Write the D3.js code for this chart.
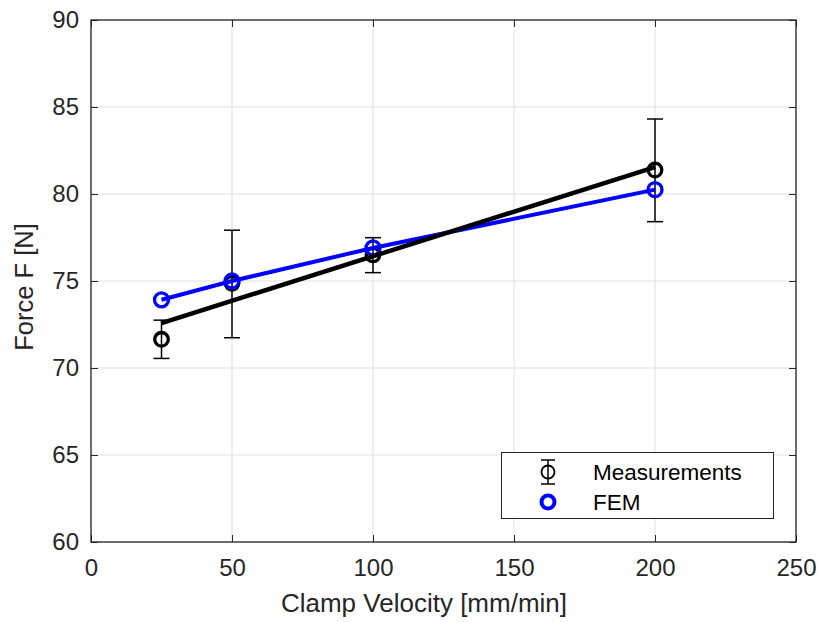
<!DOCTYPE html>
<html>
<head>
<meta charset="utf-8">
<script src="https://cdn.jsdelivr.net/npm/d3@7"></script>
<style>
  html, body { margin: 0; padding: 0; background: #fff; }
  svg { display: block; font-family: "Liberation Sans", Arial, Helvetica, sans-serif; }
</style>
</head>
<body>
<svg id="chart" width="818" height="622"></svg>
<script>
// Clamp velocity test points [mm/min]
const velocity = [25, 50, 100, 200];
// Measured force [N] with error bar limits
const measured = [71.65, 74.87, 76.5, 81.38];
const measuredLow = [70.55, 71.74, 75.48, 78.41];
const measuredHigh = [72.75, 77.92, 77.49, 84.31];
// Simulated force [N]
const fem = [73.92, 75.0, 76.9, 80.25];
// Linear fit through the measurements, drawn between the end velocities
const fitVelocity = [25, 200];
const fitForce = [72.58, 81.55];

const xTicks = [0, 50, 100, 150, 200, 250];
const yTicks = [60, 65, 70, 75, 80, 85, 90];

const svg = d3.select("#chart");
const L = 91, R = 796, T = 20, B = 542;

const x = d3.scaleLinear().domain([0, 250]).range([L, R]);
const y = d3.scaleLinear().domain([60, 90]).range([B, T]);

const axisColor = "#262626";

// grid
const grid = svg.append("g");
grid.selectAll("line.gx").data(xTicks).join("line")
  .attr("x1", d => x(d)).attr("x2", d => x(d))
  .attr("y1", T).attr("y2", B)
  .attr("stroke", "#dfdfdf").attr("stroke-width", 1);
grid.selectAll("line.gy").data(yTicks).join("line")
  .attr("x1", L).attr("x2", R)
  .attr("y1", d => y(d)).attr("y2", d => y(d))
  .attr("stroke", "#dfdfdf").attr("stroke-width", 1);

// axes with inward ticks on all four sides
const tickLen = 7;
const fmt = d3.format("d");
function styleAxis(g) {
  g.select(".domain").remove();
  g.selectAll(".tick line").attr("stroke", axisColor).attr("stroke-width", 1);
  g.selectAll(".tick text").attr("fill", axisColor).attr("font-size", 24)
    .attr("font-family", "'Liberation Sans', Arial, sans-serif");
}
svg.append("g").attr("transform", `translate(0,${B})`)
  .call(d3.axisBottom(x).tickValues(xTicks).tickFormat(fmt).tickSizeInner(-tickLen).tickSizeOuter(0).tickPadding(17))
  .call(styleAxis);
svg.append("g").attr("transform", `translate(0,${T})`)
  .call(d3.axisTop(x).tickValues(xTicks).tickFormat("").tickSizeInner(-tickLen).tickSizeOuter(0))
  .call(styleAxis);
svg.append("g").attr("transform", `translate(${L},0)`)
  .call(d3.axisLeft(y).tickValues(yTicks).tickFormat(fmt).tickSizeInner(-tickLen).tickSizeOuter(0).tickPadding(12))
  .call(styleAxis);
svg.append("g").attr("transform", `translate(${R},0)`)
  .call(d3.axisRight(y).tickValues(yTicks).tickFormat("").tickSizeInner(-tickLen).tickSizeOuter(0))
  .call(styleAxis);

// frame
svg.append("rect").attr("x", L).attr("y", T).attr("width", R - L).attr("height", B - T)
  .attr("fill", "none").attr("stroke", axisColor).attr("stroke-width", 1.3);

// axis labels
svg.append("text").attr("x", 424).attr("y", 612)
  .attr("text-anchor", "middle").attr("font-size", 26).attr("fill", axisColor)
  .text("Clamp Velocity [mm/min]");
svg.append("text").attr("transform", `translate(33,${(T + B) / 2 + 6}) rotate(-90)`)
  .attr("text-anchor", "middle").attr("font-size", 25.5).attr("fill", axisColor)
  .text("Force F [N]");

const meas = velocity.map((v, i) => ({ v, f: measured[i], lo: measuredLow[i], hi: measuredHigh[i] }));
const sim = velocity.map((v, i) => ({ v, f: fem[i] }));

// error bars
const eb = svg.append("g").attr("stroke", "#000").attr("stroke-width", 1.5);
const cap = 8;
eb.selectAll("line.v").data(meas).join("line")
  .attr("x1", d => x(d.v)).attr("x2", d => x(d.v))
  .attr("y1", d => y(d.lo)).attr("y2", d => y(d.hi));
eb.selectAll("line.lo").data(meas).join("line")
  .attr("x1", d => x(d.v) - cap).attr("x2", d => x(d.v) + cap)
  .attr("y1", d => y(d.lo)).attr("y2", d => y(d.lo));
eb.selectAll("line.hi").data(meas).join("line")
  .attr("x1", d => x(d.v) - cap).attr("x2", d => x(d.v) + cap)
  .attr("y1", d => y(d.hi)).attr("y2", d => y(d.hi));

// measurement markers
svg.append("g").selectAll("circle").data(meas).join("circle")
  .attr("cx", d => x(d.v)).attr("cy", d => y(d.f)).attr("r", 6.8)
  .attr("fill", "none").attr("stroke", "#000").attr("stroke-width", 3.3);

// FEM line and markers
const line = d3.line().x(d => x(d.v)).y(d => y(d.f));
svg.append("path").datum(sim).attr("d", line)
  .attr("fill", "none").attr("stroke", "#0000ff").attr("stroke-width", 4);
svg.append("g").selectAll("circle").data(sim).join("circle")
  .attr("cx", d => x(d.v)).attr("cy", d => y(d.f)).attr("r", 7)
  .attr("fill", "none").attr("stroke", "#0000ff").attr("stroke-width", 3.3);

// fit line through the measurements
const fit = fitVelocity.map((v, i) => ({ v, f: fitForce[i] }));
svg.append("path").datum(fit).attr("d", line)
  .attr("fill", "none").attr("stroke", "#000").attr("stroke-width", 4.5);

// legend
const lg = svg.append("g");
lg.append("rect").attr("x", 501.5).attr("y", 452.5).attr("width", 272).attr("height", 66)
  .attr("fill", "#fff").attr("stroke", axisColor).attr("stroke-width", 1);
const sx = 548, sy1 = 472, sy2 = 502;
lg.append("line").attr("x1", sx).attr("x2", sx).attr("y1", sy1 - 12).attr("y2", sy1 + 12)
  .attr("stroke", "#000").attr("stroke-width", 1.5);
lg.append("line").attr("x1", sx - 7).attr("x2", sx + 7).attr("y1", sy1 - 12).attr("y2", sy1 - 12)
  .attr("stroke", "#000").attr("stroke-width", 1.5);
lg.append("line").attr("x1", sx - 7).attr("x2", sx + 7).attr("y1", sy1 + 12).attr("y2", sy1 + 12)
  .attr("stroke", "#000").attr("stroke-width", 1.5);
lg.append("circle").attr("cx", sx).attr("cy", sy1).attr("r", 6.5)
  .attr("fill", "none").attr("stroke", "#000").attr("stroke-width", 1.8);
lg.append("circle").attr("cx", sx).attr("cy", sy2).attr("r", 6.5)
  .attr("fill", "none").attr("stroke", "#0000ff").attr("stroke-width", 4);
lg.append("text").attr("x", 593).attr("y", sy1 + 8).attr("font-size", 22.5).attr("fill", "#000")
  .text("Measurements");
lg.append("text").attr("x", 593).attr("y", sy2 + 8).attr("font-size", 22.5).attr("fill", "#000")
  .text("FEM");
</script>
</body>
</html>
